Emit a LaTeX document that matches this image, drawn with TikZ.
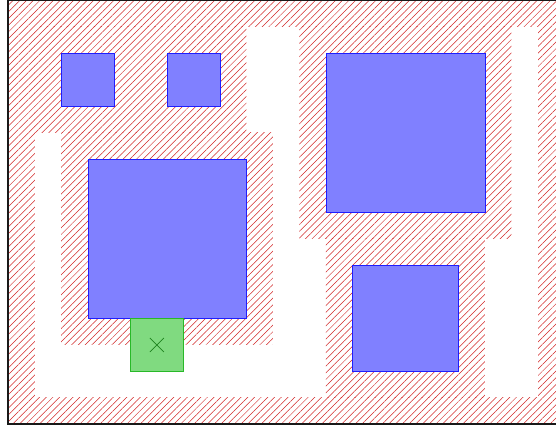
\documentclass[tikz,border=0pt]{standalone}
\usetikzlibrary{patterns.meta,shapes.misc}
\definecolor{partfill}{RGB}{128,128,255}
\definecolor{partline}{RGB}{30,30,255}
\definecolor{compfill}{RGB}{128,218,128}
\definecolor{compline}{RGB}{40,185,40}
\definecolor{crossline}{RGB}{30,130,30}
\definecolor{hatchred}{RGB}{210,40,40}
\begin{document}
\begin{tikzpicture}[x=1cm,y=-1cm,
  hatch/.style={pattern={Lines[angle=45,distance=5.1pt,line width=0.55pt]},pattern color=hatchred},
  part/.style={draw=partline,fill=partfill,line width=1pt,inner sep=0pt,anchor=north west},
  comp/.style={draw=compline,fill=compfill,line width=1pt,inner sep=0pt,anchor=north west},
  xmark/.style={draw=crossline,cross out,line width=0.8pt,minimum size=0.5cm,inner sep=0pt}]
\useasboundingbox (-0.302,0) rectangle (20.68,16.226);
% board keep-out margin
\path[hatch] (0,0) rectangle (21,16);
\fill[white] (1,1) rectangle (20,15);
% keep-out zones around parts
\path[hatch] (1,1) rectangle (5,5);
\path[hatch] (5,1) rectangle (9,5);
\path[hatch] (2,5) rectangle (10,13);
\path[hatch] (11,1) rectangle (19,9);
\path[hatch] (12,9) rectangle (18,15);
% board outline
\draw[line width=1.6pt,black!90] (0,0) rectangle (21,16);
% parts
\node[part,minimum size=2cm] (s1) at (2,2) {};
\node[part,minimum size=2cm] (s2) at (6,2) {};
\node[part,minimum size=6cm] (b1) at (3,6) {};
\node[part,minimum size=6cm] (b2) at (12,2) {};
\node[part,minimum size=4cm] (m1) at (13,10) {};
% component being placed
\node[comp,minimum size=2cm] (g) at (4.6,12) {};
\node[xmark] (gx) at (g.center) {};
\end{tikzpicture}
\end{document}
